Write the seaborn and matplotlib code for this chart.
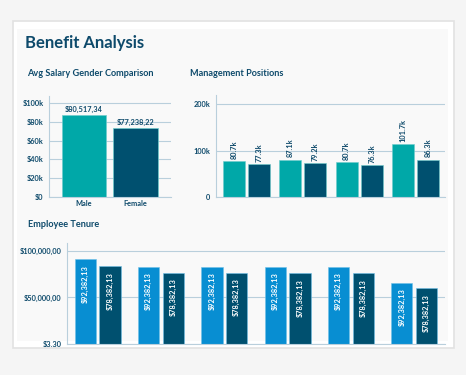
import pandas as pd
import seaborn as sns
from matplotlib import pyplot as plt
from matplotlib.patches import Rectangle

# Avg salary by gender (bar heights, labels as printed)
genders = ['Male', 'Female']
gender_salary = [87200, 73400]
gender_labels = ['$80,517,34', '$77,238,22']

# Management positions, 4 groups x 2 series
mgmt_groups = ['G1', 'G2', 'G3', 'G4']
mgmt_a = [76800, 79600, 74600, 113300]
mgmt_b = [70300, 72500, 68200, 79600]
mgmt_a_labels = ['80.7k', '87.1k', '80.7k', '101.7k']
mgmt_b_labels = ['77.3k', '79.2k', '76.3k', '86.3k']

# Employee tenure, 6 groups x 2 series
tenure_groups = ['T1', 'T2', 'T3', 'T4', 'T5', 'T6']
tenure_a = [91200, 82700, 82700, 82700, 82700, 65600]
tenure_b = [83300, 76300, 76300, 75900, 75900, 59900]
tenure_a_label = '$92,382,13'
tenure_b_label = '$78,382,13'

TEAL = '#00a8a8'
NAVY = '#00506f'
BLUE = '#088ed2'
TXT = '#0e4a6b'
GRID = '#b9cfdc'

sns.set_style('white')
plt.rcParams['font.family'] = ['Lato', 'DejaVu Sans']
plt.rcParams['font.weight'] = 'bold'

W, H = 466, 375
fig = plt.figure(figsize=(W / 100, H / 100), dpi=100, facecolor='#f5f5f5')

# card background
fig.patches.append(Rectangle((13 / W, 1 - 348 / H), 441 / W, 327 / H,
                             transform=fig.transFigure, facecolor='white',
                             edgecolor='#e2e2e2', lw=1.2, zorder=-2))
fig.patches.append(Rectangle((17 / W, 1 - 341 / H), 431 / W, 312 / H,
                             transform=fig.transFigure, facecolor='#f9f9f9',
                             edgecolor='none', zorder=-1))

fig.text(25 / W, 1 - 43 / H, 'Benefit Analysis', fontsize=12,
         fontweight='bold', color=TXT, va='center')
fig.text(27 / W, 1 - 73 / H, 'Avg Salary Gender Comparison', fontsize=6.6,
         fontweight='bold', color=TXT, va='center')
fig.text(190 / W, 1 - 73 / H, 'Management Positions', fontsize=6.6,
         fontweight='bold', color=TXT, va='center')
fig.text(28 / W, 1 - 224 / H, 'Employee Tenure', fontsize=6.6,
         fontweight='bold', color=TXT, va='center')


def style_axes(ax):
    ax.set_facecolor('none')
    for side in ['top', 'right']:
        ax.spines[side].set_visible(False)
    for side in ['left', 'bottom']:
        ax.spines[side].set_color(GRID)
        ax.spines[side].set_linewidth(0.8)
    ax.grid(axis='y', color=GRID, lw=0.8)
    ax.set_axisbelow(True)
    ax.tick_params(axis='y', length=3, width=0.8, color=GRID, pad=1,
                   labelsize=5.3, labelcolor=TXT)
    ax.tick_params(axis='x', length=0, pad=2, labelsize=5.3, labelcolor=TXT)
    ax.set_xlabel('')
    ax.set_ylabel('')


# chart 1: salary by gender
ax1 = fig.add_axes([49 / W, 1 - 197 / H, 122 / W, 101 / H])
df1 = pd.DataFrame({'gender': genders, 'salary': gender_salary})
sns.barplot(data=df1, x='gender', y='salary', hue='gender',
            palette=[TEAL, NAVY], width=0.86, legend=False, ax=ax1,
            saturation=1, edgecolor='#6fcccc', linewidth=0.5)
ax1.set_ylim(0, 107400)
ax1.set_xlim(-0.68, 1.69)
ax1.set_yticks([0, 20000, 40000, 60000, 80000, 100000])
ax1.set_yticklabels(['$0', '$20k', '$40k', '$60k', '$80k', '$100k'])
style_axes(ax1)
for i, (v, lab) in enumerate(zip(gender_salary, gender_labels)):
    ax1.annotate(lab, (i, v), xytext=(0, 1.5), textcoords='offset points',
                 ha='center', va='bottom', fontsize=5.3, color=TXT)

# chart 2: management positions
ax2 = fig.add_axes([216 / W, 1 - 197 / H, 229 / W, 102 / H])
df2 = pd.DataFrame({'group': mgmt_groups * 2,
                    'series': ['a'] * 4 + ['b'] * 4,
                    'value': mgmt_a + mgmt_b})
sns.barplot(data=df2, x='group', y='value', hue='series',
            palette=[TEAL, NAVY], width=0.89, gap=0.12, legend=False,
            ax=ax2, saturation=1, edgecolor='#6fcccc', linewidth=0.4)
ax2.set_ylim(0, 219400)
ax2.set_xlim(-0.54, 3.52)
ax2.set_yticks([0, 100000, 200000])
ax2.set_yticklabels(['0', '100k', '200k'])
ax2.set_xticks([])
style_axes(ax2)
off2 = 0.89 / 4
for i in range(len(mgmt_groups)):
    for dx, v, lab in [(-off2, mgmt_a[i], mgmt_a_labels[i]),
                       (off2, mgmt_b[i], mgmt_b_labels[i])]:
        ax2.annotate(lab, (i + dx, v), xytext=(0, 2),
                     textcoords='offset points', ha='center', va='bottom',
                     rotation=90, fontsize=5.3, color=TXT)

# chart 3: employee tenure
ax3 = fig.add_axes([67 / W, 1 - 344 / H, 378 / W, 101 / H])
df3 = pd.DataFrame({'group': tenure_groups * 2,
                    'series': ['a'] * 6 + ['b'] * 6,
                    'value': tenure_a + tenure_b})
sns.barplot(data=df3, x='group', y='value', hue='series',
            palette=[BLUE, NAVY], width=0.78, gap=0.14, legend=False,
            ax=ax3, saturation=1, edgecolor='#6fc0e8', linewidth=0.4)
ax3.set_ylim(3.3, 108500)
ax3.set_xlim(-0.485, 5.487)
ax3.set_yticks([3.3, 50000, 100000])
ax3.set_yticklabels(['$3.30', '$50,000,00', '$100,000,00'])
ax3.set_xticks([])
style_axes(ax3)
off3 = 0.78 / 4
for i in range(len(tenure_groups)):
    for dx, v, lab in [(-off3, tenure_a[i], tenure_a_label),
                       (off3, tenure_b[i], tenure_b_label)]:
        ax3.annotate(lab, (i + dx, v), xytext=(0, -4),
                     textcoords='offset points', ha='center', va='top',
                     rotation=90, fontsize=5.3, color='white')

plt.savefig('out.png', dpi=100, facecolor=fig.get_facecolor())
